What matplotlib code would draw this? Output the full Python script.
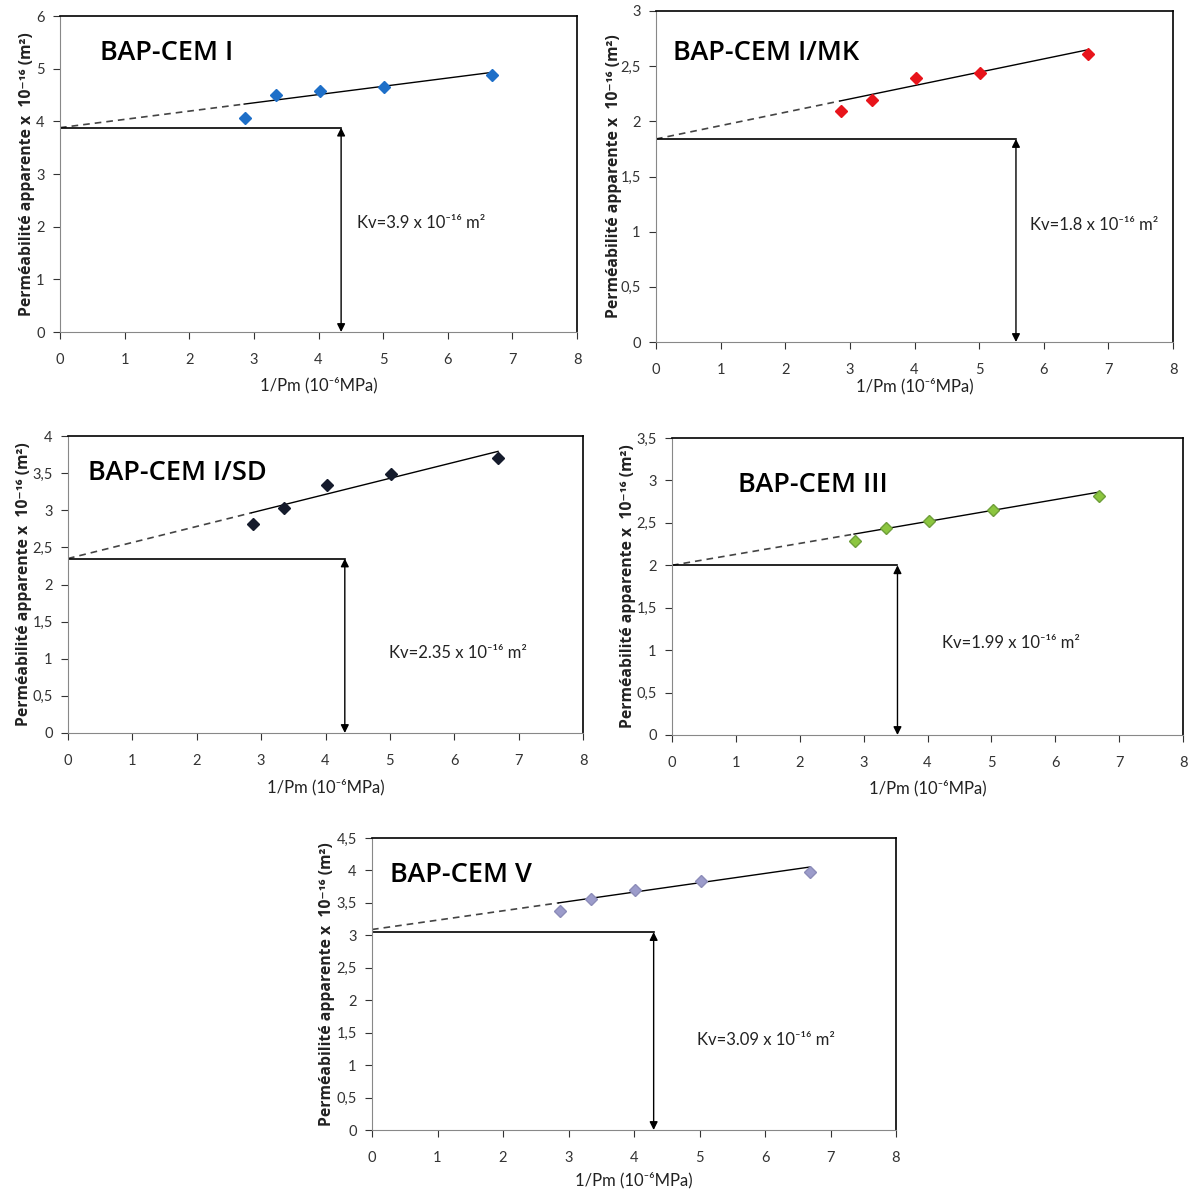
import matplotlib.pyplot as plt
import numpy as np

plt.rcParams['font.family'] = ['Lato', 'DejaVu Sans']

W, H = 1188, 1192

# 1/Pm values (10^-6 MPa) - same for every mix
inv_pm = [2.87, 3.35, 4.02, 5.02, 6.68]

titles = ["BAP-CEM I", "BAP-CEM I/MK", "BAP-CEM I/SD", "BAP-CEM III", "BAP-CEM V"]
perm_cem1 = [4.07, 4.50, 4.58, 4.66, 4.88]
perm_mk = [2.09, 2.19, 2.39, 2.44, 2.61]
perm_sd = [2.82, 3.03, 3.34, 3.49, 3.70]
perm_cem3 = [2.29, 2.44, 2.52, 2.65, 2.82]
perm_cem5 = [3.37, 3.56, 3.70, 3.83, 3.97]

# trend line: value at x=0 and slope
fit_b = [3.88, 1.84, 2.35, 2.00, 3.09]
fit_a = [0.157, 0.121, 0.216, 0.129, 0.144]
# Kv reference line: height and arrow position
kv_y = [3.88, 1.84, 2.35, 2.00, 3.05]
kv_x = [4.35, 5.57, 4.30, 3.53, 4.30]
kv_labels = ["3.9", "1.8", "2.35", "1.99", "3.09"]

ymax = [6, 3, 4, 3.5, 4.5]
ystep = [1, 0.5, 0.5, 0.5, 0.5]

colors = ['#1E6FC8', '#E8141B', '#151B2C', '#8CC63F', '#9C9CCB']
edges = ['#1E6FC8', '#E8141B', '#151B2C', '#6E9E3A', '#8C8CB8']

# pixel boxes: left, top, right, bottom
boxes = [(60, 16, 577, 332), (656, 11, 1173, 342), (68, 436, 583, 733),
         (672, 438, 1183, 735), (372, 838, 896, 1130)]
title_pos = [(0.62, 5.3), (0.27, 2.62), (0.31, 3.50), (1.03, 2.95), (0.27, 3.93)]
text_pos = [(4.6, 2.07), (5.79, 1.06), (4.99, 1.08), (4.23, 1.08), (4.96, 1.39)]
ypad = [1, -1, 0, 0, 1]
xpad = [7, 1, 8, 7, 5]

series = [perm_cem1, perm_mk, perm_sd, perm_cem3, perm_cem5]

fig = plt.figure(figsize=(W / 100, H / 100), dpi=100)

for i in range(5):
    l, t, r, b = boxes[i]
    ax = fig.add_axes([l / W, 1 - b / H, (r - l) / W, (b - t) / H])

    ax.plot(inv_pm, series[i], linestyle='none', marker='D', ms=6.5,
            color=colors[i], markeredgecolor=edges[i], zorder=4)

    x0, x1 = inv_pm[0] - 0.02, inv_pm[-1]
    ax.plot([0, x0], [fit_b[i], fit_b[i] + fit_a[i] * x0], color='#444444', lw=1.2,
            linestyle=(0, (4, 3)))
    ax.plot([x0, x1], [fit_b[i] + fit_a[i] * x0, fit_b[i] + fit_a[i] * x1], '-', color='black', lw=1.0)

    ax.plot([0, kv_x[i]], [kv_y[i], kv_y[i]], '-', color='black', lw=1.2)
    ax.annotate('', xy=(kv_x[i], 0), xytext=(kv_x[i], kv_y[i]),
                arrowprops=dict(arrowstyle='<|-|>', color='black', lw=1.0,
                                mutation_scale=12, shrinkA=0, shrinkB=0))

    ax.text(title_pos[i][0], title_pos[i][1], titles[i], fontsize=19.5, fontweight='semibold',
            family=['Open Sans', 'DejaVu Sans'], ha='left', va='center')
    ax.text(text_pos[i][0], text_pos[i][1], "Kv=" + kv_labels[i] + " x 10⁻¹⁶ m²",
            fontsize=12, color='#222222', ha='left', va='center')

    ax.set_xlim(0, 8)
    ax.set_ylim(0, ymax[i])
    ax.set_xticks(range(0, 9))
    yt = np.arange(0, ymax[i] + 0.001, ystep[i])
    ax.set_yticks(yt)
    ax.set_yticklabels([('%g' % v).replace('.', ',') for v in yt])
    ax.tick_params(labelsize=10.5, colors='#333333', length=5, direction='out', pad=6)
    ax.tick_params(axis='x', pad=10)

    for s in ['left', 'bottom']:
        ax.spines[s].set_color('#888888')
    for s in ['top', 'right']:
        ax.spines[s].set_color('black')
        ax.spines[s].set_linewidth(1.2)

    ax.set_xlabel("1/Pm (10⁻⁶MPa)", fontsize=12, color='#222222', labelpad=xpad[i])
    ax.set_ylabel("Perméabilité apparente x  10⁻¹⁶ (m²)", fontsize=11.3,
                  fontweight='bold', family=['Open Sans', 'DejaVu Sans'],
                  color='#222222', labelpad=ypad[i])

fig.savefig("out.png", dpi=100)
